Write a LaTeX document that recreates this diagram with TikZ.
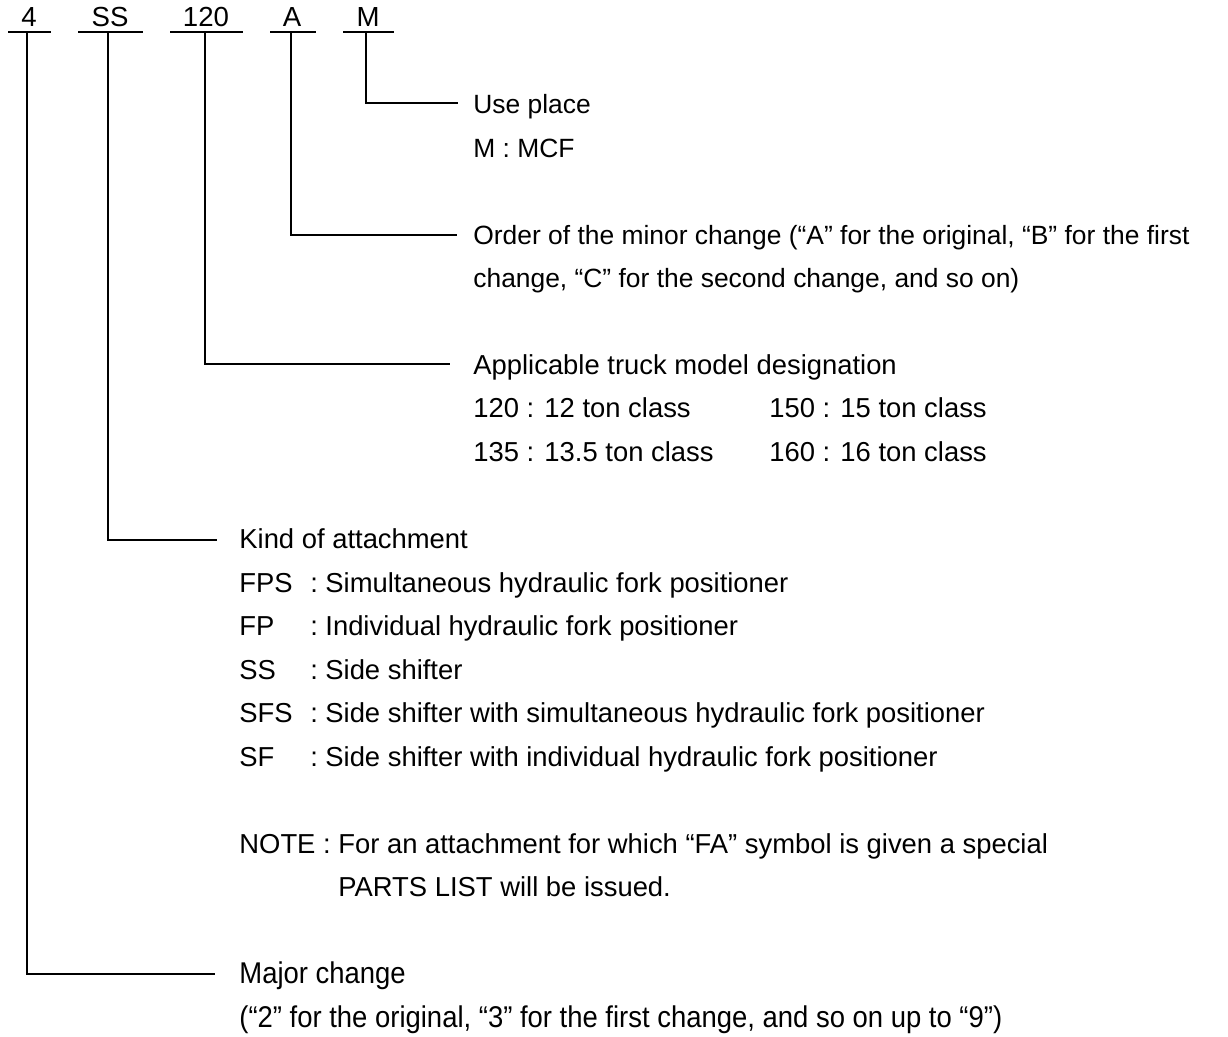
\documentclass[tikz,border=0pt]{standalone}
\usepackage{fontspec}
\setmainfont{Liberation Sans}
\begin{document}
\begin{tikzpicture}[x=0.5pt,y=-0.5pt,
  txt/.style={anchor=base west,inner sep=0pt,font=\fontsize{13.2}{15}\selectfont},
  txtb/.style={anchor=base west,inner sep=0pt,font=\fontsize{13.7}{15}\selectfont},
  txtc/.style={anchor=base west,inner sep=0pt,font=\fontsize{15}{17}\selectfont\addfontfeature{FakeStretch=0.915}},
  code/.style={anchor=base,inner sep=0pt,font=\fontsize{13.8}{15}\selectfont},
  ln/.style={line width=0.8pt}]
\useasboundingbox (0,0) rectangle (1228,1037);
% top codes
\node[code] (c4) at (29,27) {4};
\node[code] (cSS) at (110,27) {SS};
\node[code] (c120) at (206,27) {120};
\node[code] (cA) at (292,27) {A};
\node[code] (cM) at (368,27) {M};
\draw[ln] (8,32) -- (51,32);
\draw[ln] (78,32) -- (143,32);
\draw[ln] (170,32) -- (243,32);
\draw[ln] (270,32) -- (316,32);
\draw[ln] (343,32) -- (394,32);
\coordinate (t4) at (27,32);
\coordinate (tSS) at (108,32);
\coordinate (t120) at (205,32);
\coordinate (tA) at (291,32);
\coordinate (tM) at (366,32);
% descriptions
\node[txt] (uM) at (473,114) {Use place};
\node[txt] (uM2) at (473,158) {M : MCF};
\node[txt] (uA) at (473,245) {Order of the minor change (“A” for the original, “B” for the first};
\node[txt] (uA2) at (473,288) {change, “C” for the second change, and so on)};
\node[txtb] (u120) at (473,375) {Applicable truck model designation};
\node[txtb] (u120a) at (473,418) {120 : 12 ton class};
\node[txtb] (u120b) at (769,418) {150 : 15 ton class};
\node[txtb] (u120c) at (473,462) {135 : 13.5 ton class};
\node[txtb] (u120d) at (769,462) {160 : 16 ton class};
\node[txtb] (uSS) at (239,549) {Kind of attachment};
\foreach \k/\d/\y in {FPS/Simultaneous hydraulic fork positioner/593,
  FP/Individual hydraulic fork positioner/636,
  SS/Side shifter/680,
  SFS/Side shifter with simultaneous hydraulic fork positioner/723,
  SF/Side shifter with individual hydraulic fork positioner/767}{
  \node[txtb] (k\k) at (239,\y) {\k};
  \node[txtb] (s\k) at (310,\y) {:};
  \node[txtb] (d\k) at (325,\y) {\d};
}
\node[txtb] (note) at (239,854) {NOTE : For an attachment for which “FA” symbol is given a special};
\node[txtb] (note2) at (338,897) {PARTS LIST will be issued.};
\node[txtc] (u4) at (239,984) {Major change};
\node[txtc] (u42) at (239,1027) {(“2” for the original, “3” for the first change, and so on up to “9”)};
% connectors
\draw[ln] (tM) |- (458,103) coordinate (eM);
\draw[ln] (tA) |- (457,235) coordinate (eA);
\draw[ln] (t120) |- (450,364) coordinate (e120);
\draw[ln] (tSS) |- (217,540) coordinate (eSS);
\draw[ln] (t4) |- (215,974) coordinate (e4);
\end{tikzpicture}
\end{document}
